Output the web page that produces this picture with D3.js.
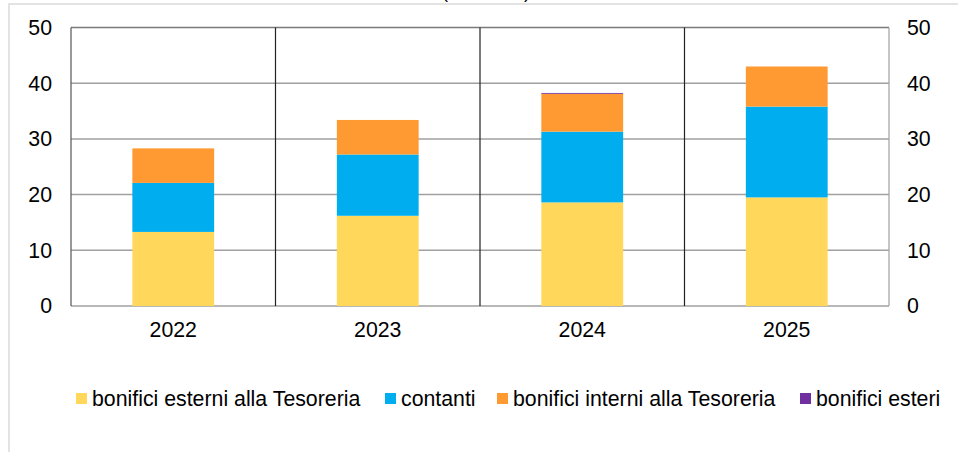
<!DOCTYPE html>
<html>
<head>
<meta charset="utf-8">
<script src="https://cdn.jsdelivr.net/npm/d3@7"></script>
<style>
  html, body { margin: 0; padding: 0; background: #fff; }
  svg { display: block; font-family: "Liberation Sans", Arial, sans-serif; }
</style>
</head>
<body>
<svg id="chart" width="958" height="452"></svg>
<script>
// dati
const years = ['2022', '2023', '2024', '2025'];
const esterni = [13.3, 16.2, 18.6, 19.5];
const contanti = [8.8, 11.0, 12.7, 16.3];
const interni = [6.2, 6.2, 6.8, 7.2];
const esteri = [0, 0, 0.15, 0];
const seriesNames = ['bonifici esterni alla Tesoreria', 'contanti', 'bonifici interni alla Tesoreria', 'bonifici esteri'];
const seriesColors = ['#FFD75B', '#00AEEF', '#FF9A33', '#7030A0'];
const yTicks = [0, 10, 20, 30, 40, 50];

const svg = d3.select('#chart');
const W = 958, H = 452;
const margin = {top: 27.5, right: 69, bottom: 146, left: 71};
const fs = 21.3;

// cornice grigia chiara
svg.append('path')
  .attr('d', `M9,${H} L9,4 L${W},4`)
  .attr('fill', 'none')
  .attr('stroke', '#e3e3e3')
  .attr('stroke-width', 2);

// titolo tagliato in alto
svg.append('text')
  .attr('x', 486).attr('y', -2.5)
  .attr('text-anchor', 'middle')
  .attr('font-size', 18)
  .attr('fill', '#000')
  .text('(in miliardi)');

const x = d3.scaleBand().domain(years).range([margin.left, W - margin.right]).paddingInner(0).paddingOuter(0);
const y = d3.scaleLinear().domain([0, 50]).range([H - margin.bottom, margin.top]);

const rows = years.map((yr, i) => ({year: yr, s0: esterni[i], s1: contanti[i], s2: interni[i], s3: esteri[i]}));
const stack = d3.stack().keys(['s0', 's1', 's2', 's3']);
const stacked = stack(rows);

// griglia orizzontale
svg.append('g').selectAll('line')
  .data(yTicks.slice(1))
  .join('line')
  .attr('x1', margin.left).attr('x2', W - margin.right)
  .attr('y1', d => y(d)).attr('y2', d => y(d))
  .attr('stroke', d => d === 50 ? '#7a7a7a' : '#a0a0a0')
  .attr('stroke-width', 1.5);

// asse x in basso
svg.append('line')
  .attr('x1', margin.left).attr('x2', W - margin.right)
  .attr('y1', y(0)).attr('y2', y(0))
  .attr('stroke', '#a0a0a0').attr('stroke-width', 1.5);

// separatori verticali tra gli anni
svg.append('g').selectAll('line')
  .data(years.slice(1))
  .join('line')
  .attr('x1', d => x(d)).attr('x2', d => x(d))
  .attr('y1', y(50)).attr('y2', y(0))
  .attr('stroke', '#222').attr('stroke-width', 1.2);

// asse sinistro e destro
svg.append('line')
  .attr('x1', margin.left).attr('x2', margin.left)
  .attr('y1', y(50)).attr('y2', y(0))
  .attr('stroke', '#555').attr('stroke-width', 1.2);
svg.append('line')
  .attr('x1', W - margin.right).attr('x2', W - margin.right)
  .attr('y1', y(50)).attr('y2', y(0))
  .attr('stroke', '#a0a0a0').attr('stroke-width', 1.2);

// barre
const barW = x.bandwidth() * 0.4;
svg.append('g').selectAll('g')
  .data(stacked)
  .join('g')
  .attr('fill', (d, i) => seriesColors[i])
  .selectAll('rect')
  .data(d => d)
  .join('rect')
  .attr('x', d => x(d.data.year) + (x.bandwidth() - barW) / 2)
  .attr('width', barW)
  .attr('y', d => y(d[1]))
  .attr('height', d => Math.max(0, y(d[0]) - y(d[1])));

// etichette asse y
const leftAxis = d3.axisLeft(y).tickValues(yTicks).tickSize(0).tickPadding(19);
const gl = svg.append('g').attr('transform', `translate(${margin.left},0)`).call(leftAxis);
const rightAxis = d3.axisRight(y).tickValues(yTicks).tickSize(0).tickPadding(18);
const gr = svg.append('g').attr('transform', `translate(${W - margin.right},0)`).call(rightAxis);
[gl, gr].forEach(g => {
  g.select('.domain').remove();
  g.selectAll('text').attr('font-size', fs).attr('fill', '#000').attr('font-family', '"Liberation Sans", Arial, sans-serif');
});

// etichette anni
const bottomAxis = d3.axisBottom(x).tickSize(0).tickPadding(16);
const gb = svg.append('g').attr('transform', `translate(0,${y(0)})`).call(bottomAxis);
gb.select('.domain').remove();
gb.selectAll('text').attr('font-size', fs).attr('fill', '#000').attr('font-family', '"Liberation Sans", Arial, sans-serif');

// legenda
const legendX = [76, 385, 497, 800];
const lg = svg.append('g').selectAll('g')
  .data(seriesNames)
  .join('g')
  .attr('transform', (d, i) => `translate(${legendX[i]},398)`);
lg.append('rect')
  .attr('x', 0).attr('y', -5).attr('width', 11).attr('height', 11)
  .attr('fill', (d, i) => seriesColors[i]);
lg.append('text')
  .attr('x', 16).attr('y', 7.5)
  .attr('font-size', fs)
  .attr('fill', '#000')
  .text(d => d);
</script>
</body>
</html>
